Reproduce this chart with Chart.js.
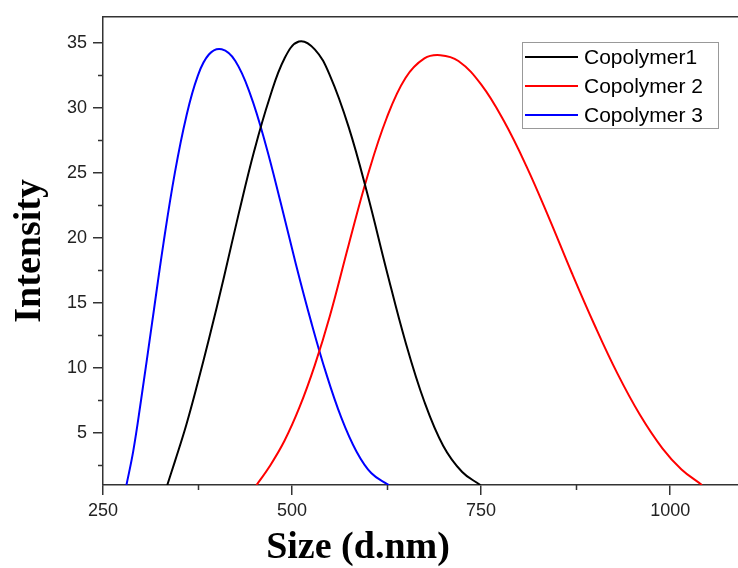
<!DOCTYPE html>
<html>
<head>
  <title>Size distribution</title>
  <script src="https://cdn.jsdelivr.net/npm/chart.js"></script>
  <style>
    body { margin: 0; background: #fff; overflow: hidden; }
    #wrap { width: 742px; height: 568px; }
  </style>
</head>
<body>

<div id="wrap">
  <canvas id="chartSize" width="742" height="568"></canvas>
</div>

<script>
// values
const seriesNames = ['Copolymer1', 'Copolymer 2', 'Copolymer 3'];

const size1 = [335, 345, 360, 375, 390, 410, 430, 450, 470, 490, 509, 530, 550, 575, 600, 625, 650, 675, 700, 725, 749];
const inten1 = [1, 2.8, 5.6, 8.8, 12.2, 17, 22, 26.7, 30.7, 33.8, 35.1, 34.5, 32.5, 28.5, 23.3, 17.5, 12, 7.4, 4, 2, 1];

const size2 = [453, 470, 490, 510, 530, 550, 575, 600, 625, 650, 675, 696, 720, 750, 780, 810, 840, 870, 900, 930, 960, 990, 1015, 1042];
const inten2 = [1, 2.4, 4.4, 7, 10.2, 14, 19.5, 24.8, 29.2, 32.3, 33.8, 34.05, 33.6, 31.8, 29, 25.5, 21.5, 17.3, 13.3, 9.6, 6.4, 3.8, 2.2, 1];

const size3 = [281, 290, 300, 315, 330, 345, 360, 375, 390, 407, 425, 445, 465, 485, 505, 525, 545, 565, 585, 605, 628];
const inten3 = [1, 3.6, 7.4, 13.5, 19.6, 25, 29.3, 32.4, 34.1, 34.5, 33.6, 31, 27.2, 22.7, 18, 13.6, 9.6, 6.2, 3.6, 1.9, 1];

const xMajor = [250, 500, 750, 1000];
const xMinor = [375, 625, 875];
const yMajor = [5, 10, 15, 20, 25, 30, 35];
const yMinor = [2.5, 7.5, 12.5, 17.5, 22.5, 27.5, 32.5];

const colors = ['#000000', '#ff0000', '#0000ff'];
const axisColor = '#333333';

function pts(xs, ys) {
  return xs.map((x, i) => ({ x: x, y: ys[i] }));
}

// frame, minor ticks, axis titles and legend box
const extras = {
  id: 'extras',
  afterDraw(chart) {
    const ctx = chart.ctx;
    const a = chart.chartArea;
    const xs = chart.scales.x, ys = chart.scales.y;
    ctx.save();
    ctx.strokeStyle = axisColor;
    ctx.lineWidth = 1.5;
    ctx.beginPath();
    ctx.moveTo(a.left, a.top);
    ctx.lineTo(a.right, a.top);
    ctx.lineTo(a.right, a.bottom);
    ctx.stroke();

    ctx.beginPath();
    yMinor.forEach(v => {
      const p = Math.round(ys.getPixelForValue(v)) + 0.5;
      ctx.moveTo(a.left - 5, p);
      ctx.lineTo(a.left, p);
    });
    xMinor.forEach(v => {
      const p = Math.round(xs.getPixelForValue(v)) + 0.5;
      ctx.moveTo(p, a.bottom);
      ctx.lineTo(p, a.bottom + 5);
    });
    ctx.stroke();

    // axis titles
    ctx.fillStyle = '#000';
    ctx.font = 'bold 38px "Liberation Serif", "Times New Roman", serif';
    ctx.textAlign = 'center';
    ctx.textBaseline = 'alphabetic';
    ctx.fillText('Size (d.nm)', 358, 558);
    ctx.save();
    ctx.translate(40, (a.top + a.bottom) / 2);
    ctx.rotate(-Math.PI / 2);
    ctx.fillText('Intensity', 0, 0);
    ctx.restore();

    // legend
    const lx = 522.5, ly = 42.5, lw = 196, lh = 86;
    ctx.strokeStyle = '#999';
    ctx.lineWidth = 1;
    ctx.strokeRect(lx, ly, lw, lh);
    ctx.font = '21px "Liberation Sans", Arial, sans-serif';
    ctx.textAlign = 'left';
    ctx.textBaseline = 'middle';
    chart.data.datasets.forEach((ds, i) => {
      const y = 57 + i * 29;
      ctx.strokeStyle = ds.borderColor;
      ctx.lineWidth = 2;
      ctx.beginPath();
      ctx.moveTo(525, y);
      ctx.lineTo(578, y);
      ctx.stroke();
      ctx.fillStyle = '#000';
      ctx.fillText(ds.label, 584, y + 1);
    });
    ctx.restore();
  }
};

new Chart(document.getElementById('chartSize').getContext('2d'), {
  type: 'scatter',
  data: {
    datasets: [
      { label: seriesNames[0], data: pts(size1, inten1), borderColor: colors[0] },
      { label: seriesNames[1], data: pts(size2, inten2), borderColor: colors[1] },
      { label: seriesNames[2], data: pts(size3, inten3), borderColor: colors[2] }
    ].map(d => Object.assign(d, {
      showLine: true, pointRadius: 0, borderWidth: 2, fill: false,
      tension: 0.4
    }))
  },
  options: {
    responsive: false,
    animation: false,
    devicePixelRatio: 1,
    layout: { padding: { top: 14, right: 0, left: 0, bottom: 0 } },
    plugins: { legend: { display: false }, tooltip: { enabled: false } },
    scales: {
      x: {
        type: 'linear',
        min: 250,
        max: 1095,
        afterBuildTicks: s => { s.ticks = xMajor.map(v => ({ value: v })); },
        afterFit: s => { s.height = 83; },
        ticks: { color: '#222', padding: 5, maxRotation: 0,
                 callback: v => String(v),
                 font: { size: 18, family: '"Liberation Sans", Arial, sans-serif' } },
        grid: { drawOnChartArea: false, drawTicks: true, tickLength: 10, color: axisColor, lineWidth: 1.5 },
        border: { display: true, color: axisColor, width: 1.5 }
      },
      y: {
        type: 'linear',
        min: 1,
        max: 37,
        afterBuildTicks: s => { s.ticks = yMajor.map(v => ({ value: v })); },
        afterFit: s => { s.width = 103; },
        ticks: { color: '#222', padding: 6,
                 callback: v => String(v),
                 font: { size: 18, family: '"Liberation Sans", Arial, sans-serif' } },
        grid: { drawOnChartArea: false, drawTicks: true, tickLength: 10, color: axisColor, lineWidth: 1.5 },
        border: { display: true, color: axisColor, width: 1.5 }
      }
    }
  },
  plugins: [extras]
});
</script>

</body>
</html>
